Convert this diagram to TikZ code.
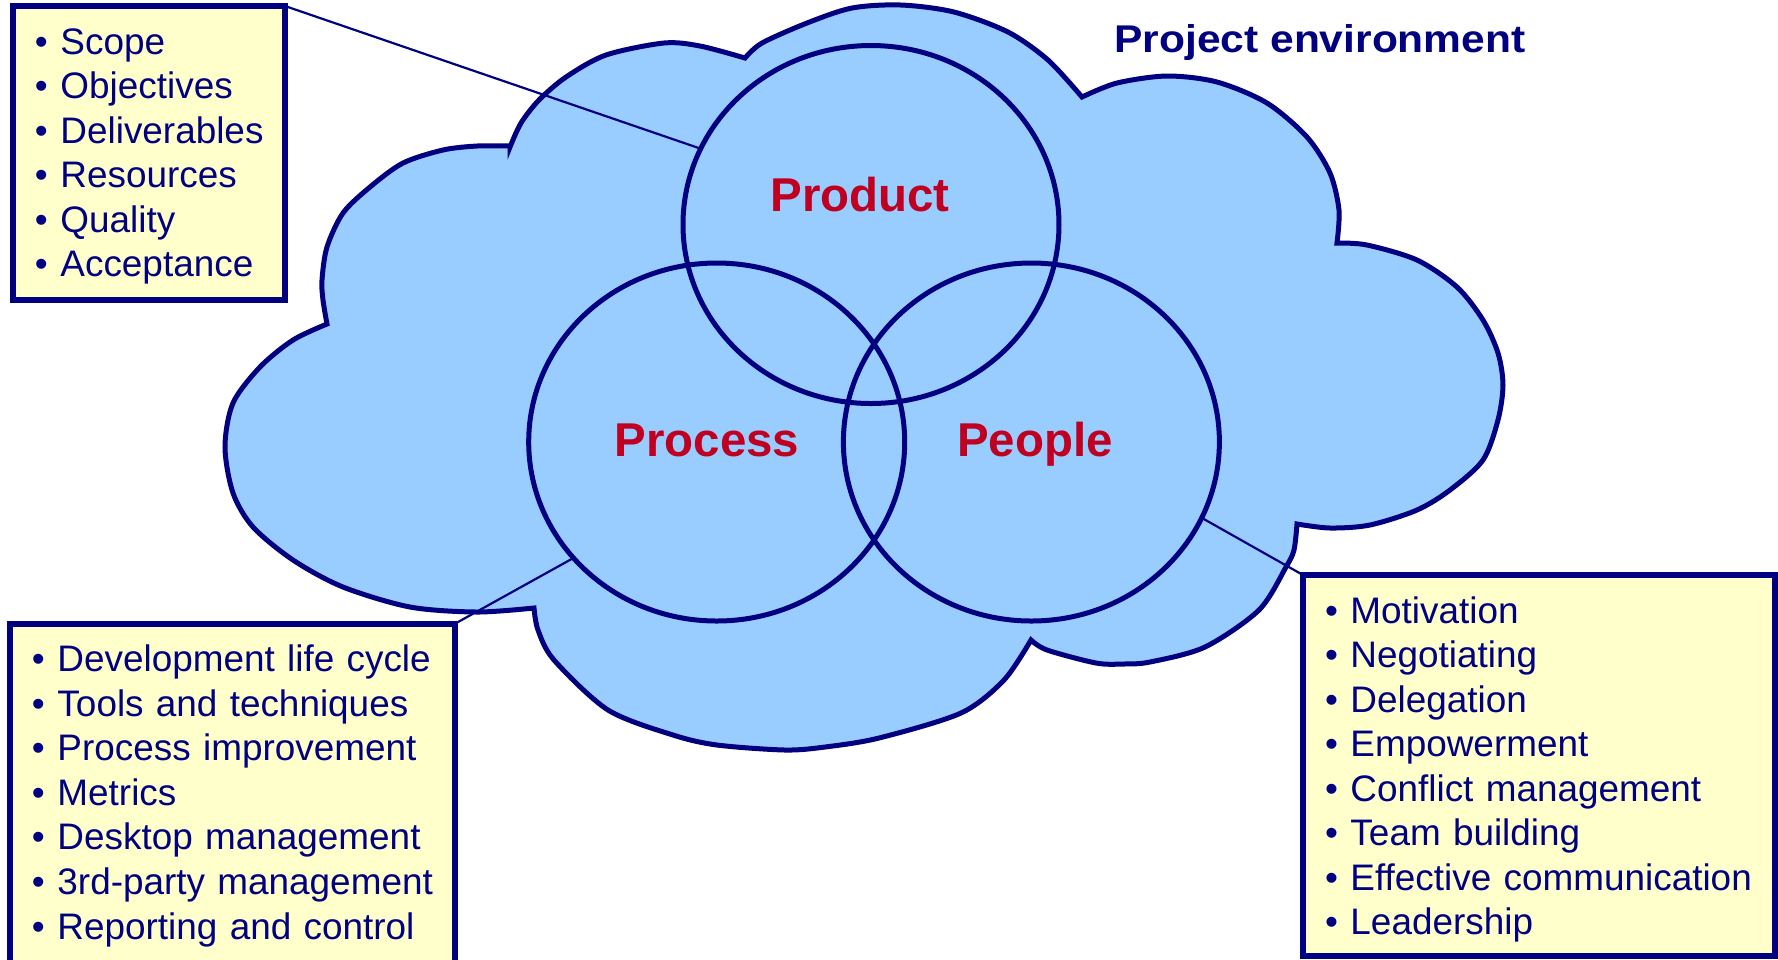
\documentclass[tikz,border=0pt]{standalone}
\usepackage{fontspec}
\setmainfont{Liberation Sans}
\newfontfamily\titlefont[FakeStretch=1.1]{Liberation Sans}
\usetikzlibrary{shapes.geometric}

\definecolor{navy}{RGB}{0,0,128}
\definecolor{skyfill}{RGB}{153,204,255}
\definecolor{notefill}{RGB}{255,255,204}
\definecolor{crimson}{RGB}{192,0,32}

\newcommand{\bul}{\hspace*{2.2mm}\makebox[2.55mm][l]{\textbullet}}

\tikzset{
  note/.style={draw=navy, fill=notefill, line width=0.6mm, outer sep=0pt,
    anchor=base west, inner sep=0pt, align=left, text=navy,
    font=\fontsize{10.5}{12.68}\selectfont, text height=4.8mm},
  ring/.style={ellipse, draw=navy, line width=0.5mm, outer sep=0pt, inner sep=0pt,
    minimum width=37.6mm, minimum height=35.8mm},
  tag/.style={text=crimson, anchor=base, font=\fontsize{13.5}{15}\selectfont\bfseries},
  leader/.style={draw=navy, line width=0.22mm},
}

\begin{document}
\begin{tikzpicture}[x=0.1mm, y=-0.1mm]
    \useasboundingbox (0,0) rectangle (1778,959);

    % the cloud
    \draw[navy, line width=0.5mm, fill=skyfill]
      plot[smooth] coordinates {(510,147) (521,123) (539,100) (566,77) (606,55) (664,43) (700,46) (745,58)}
      -- plot[smooth] coordinates {(745,58) (762,43) (807,23) (852,8) (901,5) (954,12) (1008,32) (1048,60) (1082,97)}
      -- plot[smooth] coordinates {(1082,97) (1117,83) (1167,76) (1217,82) (1267,103) (1307,137) (1330,173) (1339,210) (1337,243)}
      -- plot[smooth] coordinates {(1337,243) (1367,245) (1417,260) (1457,287) (1483,320) (1498,353) (1503,385) (1498,420) (1483,460) (1450,490) (1417,510) (1370,525) (1330,528) (1297,524)}
      -- plot[smooth] coordinates {(1297,524) (1294,550) (1286,567) (1259,610) (1205,647) (1150,662) (1123,664) (1096,663) (1047,650) (1031,640)}
      -- plot[smooth] coordinates {(1031,640) (1004,680) (961,713) (879,738) (825,747) (785,750) (717,745) (673,735) (608,710) (554,660) (538,630) (534,608)}
      -- plot[smooth] coordinates {(534,608) (477,612) (410,607) (343,587) (293,560) (253,527) (233,493) (225,447) (233,403) (260,367) (293,340) (327,324)}
      -- plot[smooth] coordinates {(327,324) (323,300) (322,280) (327,247) (343,213) (370,187) (403,163) (443,150) (477,146) (510,146)}
      -- cycle;

    \node[text=navy, anchor=base west, font=\fontsize{11}{13}\titlefont\bfseries] (env) at (1102,52) {Project environment};

    % three circles
    \node[ring] (product) at (871,224.5) {};
    \node[ring] (process) at (716.7,442) {};
    \node[ring] (people) at (1031.4,442) {};

    \node[tag] (lblproduct) at (860,211.7) {Product};
    \node[tag] (lblprocess) at (707,456.7) {Process};
    \node[tag] (lblpeople) at (1035,456.7) {People};

    % lists
    \node[note, text width=27.2mm, text depth=24.55mm] (scopebox) at (13,54)
      {\bul Scope\\ \bul Objectives\\ \bul Deliverables\\ \bul Resources\\ \bul Quality\\ \bul Acceptance};
    \node[note, text width=44.5mm, text depth=29.8mm] (cyclebox) at (10,671.7)
      {\bul Development life cycle\\ \bul Tools and techniques\\ \bul Process improvement\\ \bul Metrics\\
       \bul Desktop management\\ \bul 3rd-party management\\ \bul Reporting and control};
    \node[note, text width=47.15mm, text depth=33.25mm] (teambox) at (1303,623)
      {\bul Motivation\\ \bul Negotiating\\ \bul Delegation\\ \bul Empowerment\\
       \bul Conflict management\\ \bul Team building\\ \bul Effective communication\\ \bul Leadership};

    \draw[leader] (scopebox.north east) -- (product.156.6);
    \draw[leader] (cyclebox.north east) -- (process.219.2);
    \draw[leader] (teambox.north west) -- (people.336.3);
\end{tikzpicture}
\end{document}
